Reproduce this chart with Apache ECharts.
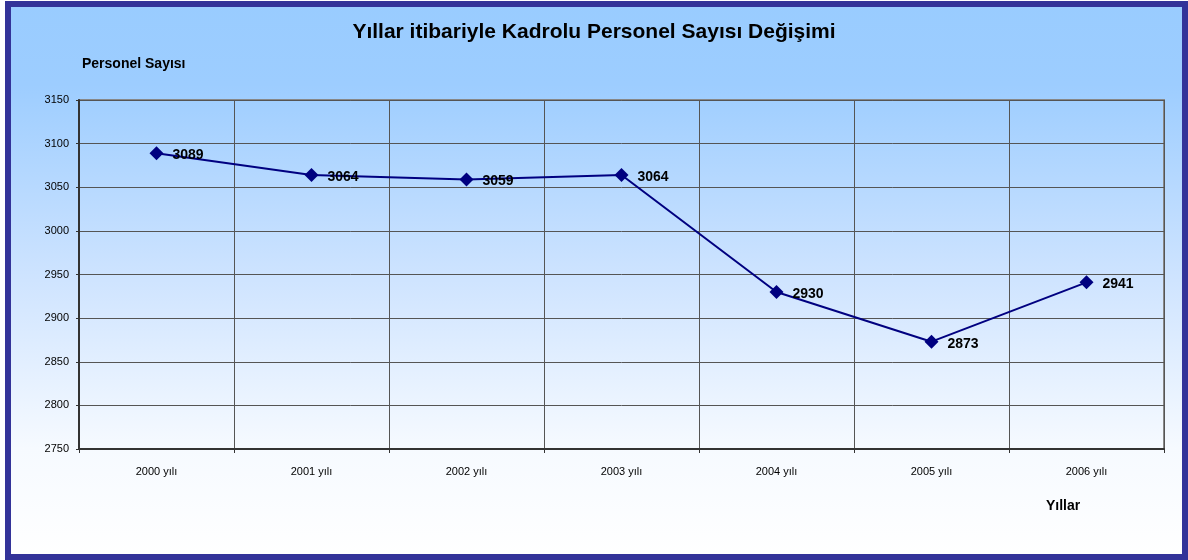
<!DOCTYPE html>
<html>
<head>
<meta charset="utf-8">
<script src="https://cdn.jsdelivr.net/npm/echarts@6/dist/echarts.min.js"></script>
<style>
html,body{margin:0;padding:0;background:#fff;}
#main{width:1188px;height:560px;}
</style>
</head>
<body>
<div id="main"></div>
<script>
// veriler
var years = ['2000 yılı', '2001 yılı', '2002 yılı', '2003 yılı', '2004 yılı', '2005 yılı', '2006 yılı'];
var personel = [3089, 3064, 3059, 3064, 2930, 2873, 2941];

var font = 'Arial, "Liberation Sans", sans-serif';
var myChart = echarts.init(document.getElementById('main'));
var option = {
    backgroundColor: '#fff',
    animation: false,
    graphic: [{
        type: 'rect',
        z: -10,
        shape: { x: 8, y: 4, width: 1177, height: 553 },
        style: {
            fill: new echarts.graphic.LinearGradient(0, 0, 0, 1, [
                { offset: 0, color: '#99ccff' },
                { offset: 0.15, color: '#9dcdff' },
                { offset: 0.5, color: '#cfe4ff' },
                { offset: 0.8, color: '#f6faff' },
                { offset: 1, color: '#ffffff' }
            ]),
            stroke: '#333399',
            lineWidth: 6
        }
    }, {
        type: 'text',
        left: 82,
        top: 57,
        style: { text: 'Personel Sayısı', font: 'bold 14px ' + font, fill: '#000' }
    }, {
        type: 'text',
        left: 1046,
        top: 499,
        style: { text: 'Yıllar', font: 'bold 14px ' + font, fill: '#000' }
    }],
    title: {
        text: 'Yıllar itibariyle Kadrolu Personel Sayısı Değişimi',
        left: 'center',
        top: 17,
        textStyle: { fontFamily: font, fontSize: 21, fontWeight: 'bold', color: '#000' }
    },
    grid: {
        left: 79, right: 24, top: 100, bottom: 111,
        show: true, borderColor: '#888', borderWidth: 2, backgroundColor: 'transparent'
    },
    xAxis: {
        type: 'category',
        data: years,
        boundaryGap: true,
        axisLine: { lineStyle: { color: '#333', width: 2 } },
        axisTick: { show: true, length: 4, lineStyle: { color: '#333' } },
        axisLabel: { fontFamily: font, fontSize: 11, color: '#000', margin: 17 },
        splitLine: { show: true, lineStyle: { color: '#555', width: 1 } }
    },
    yAxis: {
        type: 'value',
        min: 2750,
        max: 3150,
        interval: 50,
        axisLine: { show: true, lineStyle: { color: '#333', width: 2 } },
        axisTick: { show: true, length: 3, lineStyle: { color: '#333' } },
        axisLabel: {
            fontFamily: font, fontSize: 11, color: '#000', margin: 10,
            formatter: function (v) { return String(v); }
        },
        splitLine: { show: true, lineStyle: { color: '#555', width: 1 } }
    },
    series: [{
        name: 'Personel',
        type: 'line',
        data: personel,
        symbol: 'diamond',
        symbolSize: 14,
        lineStyle: { color: '#000080', width: 2 },
        itemStyle: { color: '#000080' },
        label: {
            show: true,
            position: 'right',
            distance: 9,
            offset: [0, 2],
            fontFamily: font,
            fontSize: 14,
            fontWeight: 'bold',
            color: '#000'
        }
    }]
};
myChart.setOption(option);
</script>
</body>
</html>
